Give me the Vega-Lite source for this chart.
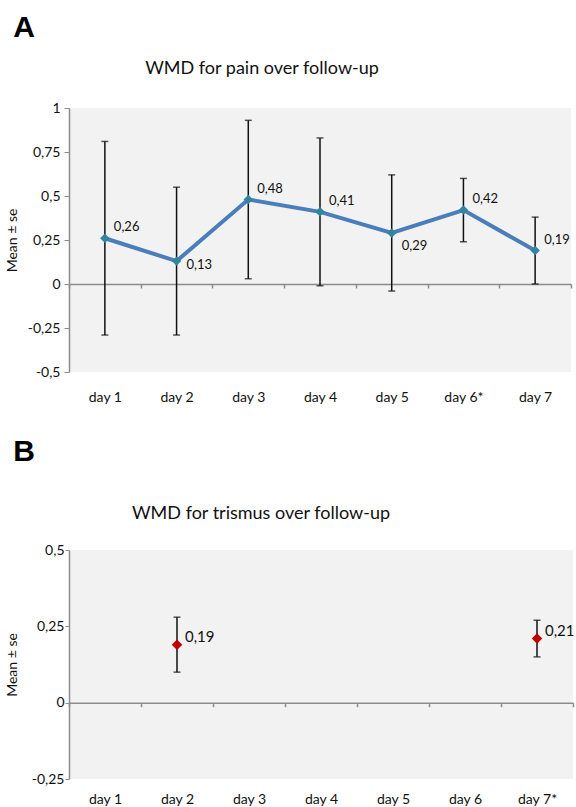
{
  "$schema": "https://vega.github.io/schema/vega-lite/v6.json",
  "padding": {"left": 5, "top": 13, "right": 4, "bottom": 0},
  "background": "white",
  "datasets": {
    "pain": [
      {"day": "day 1", "mean": 0.26, "lo": -0.29, "hi": 0.81},
      {"day": "day 2", "mean": 0.13, "lo": -0.29, "hi": 0.55},
      {"day": "day 3", "mean": 0.48, "lo": 0.03, "hi": 0.93},
      {"day": "day 4", "mean": 0.41, "lo": -0.01, "hi": 0.83},
      {"day": "day 5", "mean": 0.29, "lo": -0.04, "hi": 0.62},
      {"day": "day 6*", "mean": 0.42, "lo": 0.24, "hi": 0.6},
      {"day": "day 7", "mean": 0.19, "lo": 0.0, "hi": 0.38}
    ],
    "trismus": [
      {"day": "day 1", "mean": null, "lo": null, "hi": null},
      {"day": "day 2", "mean": 0.19, "lo": 0.1, "hi": 0.28},
      {"day": "day 3", "mean": null, "lo": null, "hi": null},
      {"day": "day 4", "mean": null, "lo": null, "hi": null},
      {"day": "day 5", "mean": null, "lo": null, "hi": null},
      {"day": "day 6", "mean": null, "lo": null, "hi": null},
      {"day": "day 7*", "mean": 0.21, "lo": 0.15, "hi": 0.27}
    ]
  },
  "vconcat": [
    {
      "title": {"text": "A", "anchor": "start", "font": "Liberation Sans", "fontSize": 30, "fontWeight": "bold", "color": "#000", "offset": 17, "dx": 8},
      "vconcat": [
        {
          "title": {"text": "WMD for pain over follow-up", "font": "Lato", "fontSize": 18, "fontWeight": "normal", "color": "#111", "anchor": "middle", "dx": -58, "offset": 23},
          "width": 502,
          "height": 264,
          "data": {"name": "pain"},
          "encoding": {
            "x": {"field": "day", "type": "nominal", "sort": null, "title": null,
              "scale": {"paddingInner": 0, "paddingOuter": 0},
              "axis": {"orient": "bottom", "offset": -88, "domain": true, "domainColor": "#8c8c8c", "domainWidth": 1.5, "ticks": true, "tickBand": "extent", "tickColor": "#8c8c8c", "tickSize": 4, "tickWidth": 1.5, "labelPadding": 102, "labelAngle": 0, "labelFont": "Lato", "labelFontSize": 14, "labelColor": "#111"}}
          },
          "layer": [
            {
              "mark": {"type": "errorbar", "ticks": {"size": 7}, "color": "#111", "thickness": 1.5},
              "encoding": {
                "y": {"field": "lo", "type": "quantitative", "scale": {"domain": [-0.5, 1], "nice": false, "zero": false},
                  "title": "Mean ± se",
                  "axis": {"values": [-0.5, -0.25, 0, 0.25, 0.5, 0.75, 1], "format": ".2~f", "grid": false, "domainColor": "#8c8c8c", "domainWidth": 1.5, "tickColor": "#8c8c8c", "tickSize": 5, "labelFont": "Lato", "labelFontSize": 14, "labelColor": "#111", "labelPadding": 4, "titleFont": "Lato", "titleFontSize": 14, "titleFontWeight": "normal", "titleColor": "#111", "titlePadding": 8}},
                "y2": {"field": "hi"}
              }
            },
            {
              "mark": {"type": "line", "color": "#4a7ebb", "strokeWidth": 4},
              "encoding": {"y": {"field": "mean", "type": "quantitative"}}
            },
            {
              "mark": {"type": "point", "shape": "diamond", "filled": true, "opacity": 1, "color": "#31859c", "size": 90},
              "encoding": {"y": {"field": "mean", "type": "quantitative"}}
            },
            {
              "transform": [{"filter": "datum.day != 'day 2' && datum.day != 'day 5'"}],
              "mark": {"type": "text", "align": "left", "baseline": "middle", "dx": 9, "dy": -11, "font": "Lato", "fontSize": 13, "color": "#111"},
              "encoding": {"y": {"field": "mean", "type": "quantitative"}, "text": {"field": "mean", "type": "quantitative", "format": ".2f"}}
            },
            {
              "transform": [{"filter": "datum.day == 'day 2'"}],
              "mark": {"type": "text", "align": "left", "baseline": "middle", "dx": 10, "dy": 4, "font": "Lato", "fontSize": 13, "color": "#111"},
              "encoding": {"y": {"field": "mean", "type": "quantitative"}, "text": {"field": "mean", "type": "quantitative", "format": ".2f"}}
            },
            {
              "transform": [{"filter": "datum.day == 'day 5'"}],
              "mark": {"type": "text", "align": "left", "baseline": "middle", "dx": 10, "dy": 13, "font": "Lato", "fontSize": 13, "color": "#111"},
              "encoding": {"y": {"field": "mean", "type": "quantitative"}, "text": {"field": "mean", "type": "quantitative", "format": ".2f"}}
            }
          ]
        }
      ]
    },
    {
      "title": {"text": "B", "anchor": "start", "font": "Liberation Sans", "fontSize": 30, "fontWeight": "bold", "color": "#000", "offset": 38, "dx": 8},
      "vconcat": [
        {
          "title": {"text": "WMD for trismus over follow-up", "font": "Lato", "fontSize": 18, "fontWeight": "normal", "color": "#111", "anchor": "middle", "dx": -60, "offset": 20},
          "width": 504,
          "height": 229,
          "data": {"name": "trismus"},
          "encoding": {
            "x": {"field": "day", "type": "nominal", "sort": null, "title": null,
              "scale": {"domain": ["day 1", "day 2", "day 3", "day 4", "day 5", "day 6", "day 7*"], "paddingInner": 0, "paddingOuter": 0},
              "axis": {"orient": "bottom", "offset": -76.3, "domain": true, "domainColor": "#8c8c8c", "domainWidth": 1.5, "ticks": true, "tickBand": "extent", "tickColor": "#8c8c8c", "tickSize": 4, "tickWidth": 1.5, "labelPadding": 86, "labelAngle": 0, "labelFont": "Lato", "labelFontSize": 14, "labelColor": "#111"}}
          },
          "layer": [
            {
              "mark": {"type": "errorbar", "ticks": {"size": 7}, "color": "#111", "thickness": 1.5},
              "encoding": {
                "y": {"field": "lo", "type": "quantitative", "scale": {"domain": [-0.25, 0.5], "nice": false, "zero": false},
                  "title": "Mean ± se",
                  "axis": {"values": [-0.25, 0, 0.25, 0.5], "format": ".2~f", "grid": false, "domainColor": "#8c8c8c", "domainWidth": 1.5, "tickColor": "#8c8c8c", "tickSize": 4, "labelFont": "Lato", "labelFontSize": 14, "labelColor": "#111", "labelPadding": 1, "titleFont": "Lato", "titleFontSize": 14, "titleFontWeight": "normal", "titleColor": "#111", "titlePadding": 12}},
                "y2": {"field": "hi"}
              }
            },
            {
              "mark": {"type": "point", "shape": "diamond", "filled": true, "opacity": 1, "color": "#c00000", "size": 110},
              "encoding": {"y": {"field": "mean", "type": "quantitative"}}
            },
            {
              "mark": {"type": "text", "align": "left", "baseline": "middle", "dx": 8, "dy": -8, "font": "Lato", "fontSize": 15, "color": "#111"},
              "encoding": {"y": {"field": "mean", "type": "quantitative"}, "text": {"field": "mean", "type": "quantitative", "format": ".2f"}}
            }
          ]
        }
      ]
    }
  ],
  "spacing": 33,
  "config": {
    "view": {"fill": "#f2f2f2", "stroke": null},
    "locale": {"number": {"decimal": ",", "thousands": ".", "grouping": [3], "currency": ["", " €"], "minus": "-"}}
  }
}
